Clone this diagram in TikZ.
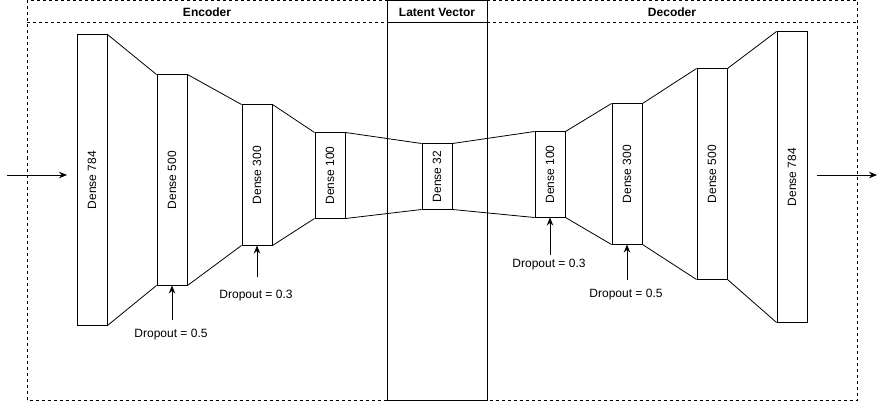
\documentclass[tikz,border=0pt]{standalone}
\usepackage{fontspec}
\setmainfont{Liberation Sans}
\usetikzlibrary{arrows.meta}
\begin{document}
\begin{tikzpicture}[x=1pt,y=-1pt,line width=1pt,
  layer/.style={draw,rectangle,inner sep=0pt,minimum width=30pt,fill=white},
  ltext/.style={rotate=90,font=\fontsize{12}{14}\selectfont,inner sep=0pt},
  dtext/.style={font=\fontsize{12}{14}\selectfont,inner sep=0pt},
  htext/.style={font=\fontsize{12}{14}\selectfont\bfseries,inner sep=0pt},
  frame/.style={draw,dash pattern=on 3pt off 3pt},
  arr/.style={-{Stealth[length=8pt,width=6.5pt]}},
  link/.style={draw,line width=0.8pt}]
\useasboundingbox (0,0) rectangle (886,401);
% frames
\draw[frame] (27,0.5) rectangle (387,400);
\draw[frame] (27,23) -- (387,23);
\draw[frame] (487,0.5) rectangle (857,400);
\draw[frame] (487,23) -- (857,23);
\draw (387,0.5) rectangle (487,400);
\draw (387,23) -- (487,23);
\node[htext] (hEnc) at (207,12) {Encoder};
\node[htext] (hLat) at (437,12) {Latent Vector};
\node[htext] (hDec) at (672,12) {Decoder};
% layers
\node[layer,minimum height=290pt] (e784) at (92,180) {};
\node[layer,minimum height=210pt] (e500) at (172,180) {};
\node[layer,minimum height=140pt] (e300) at (257,175) {};
\node[layer,minimum height=85pt]  (e100) at (330,175.5) {};
\node[layer,minimum height=65pt]  (l32)  at (437,176.5) {};
\node[layer,minimum height=85pt]  (d100) at (550,174.5) {};
\node[layer,minimum height=140pt] (d300) at (627,174) {};
\node[layer,minimum height=210pt] (d500) at (712,174) {};
\node[layer,minimum height=290pt] (d784) at (792,177) {};
\node[ltext] (t1) at (e784.center) {Dense 784};
\node[ltext] (t2) at (e500.center) {Dense 500};
\node[ltext] (t3) at (e300.center) {Dense 300};
\node[ltext] (t4) at (e100.center) {Dense 100};
\node[ltext] (t5) at (l32.center) {Dense 32};
\node[ltext] (t6) at (d100.center) {Dense 100};
\node[ltext] (t7) at (d300.center) {Dense 300};
\node[ltext] (t8) at (d500.center) {Dense 500};
\node[ltext] (t9) at (d784.center) {Dense 784};
% trapezoid links
\foreach \a/\b in {e784/e500,e500/e300,e300/e100,e100/l32,l32/d100,d100/d300,d300/d500,d500/d784}{
  \draw[link] (\a.north east) -- (\b.north west);
  \draw[link] (\a.south east) -- (\b.south west);
}
% input / output
\coordinate (in) at (7,175);
\coordinate (inE) at (67,175);
\coordinate (outS) at (817,175);
\coordinate (out) at (877,175);
\draw[arr] (in) -- (inE);
\draw[arr] (outS) -- (out);
% dropouts
\coordinate (a1) at (172,320);
\node[dtext] (l1) at (171,335) {Dropout = 0.5};
\draw[arr] (a1) -- (e500.south);
\coordinate (a2) at (257,277);
\node[dtext] (l2) at (256,296) {Dropout = 0.3};
\draw[arr] (a2) -- (e300.south);
\coordinate (a3) at (550,255);
\node[dtext] (l3) at (549,265) {Dropout = 0.3};
\draw[arr] (a3) -- (d100.south);
\coordinate (a4) at (627,280);
\node[dtext] (l4) at (626,295) {Dropout = 0.5};
\draw[arr] (a4) -- (d300.south);
\end{tikzpicture}
\end{document}
